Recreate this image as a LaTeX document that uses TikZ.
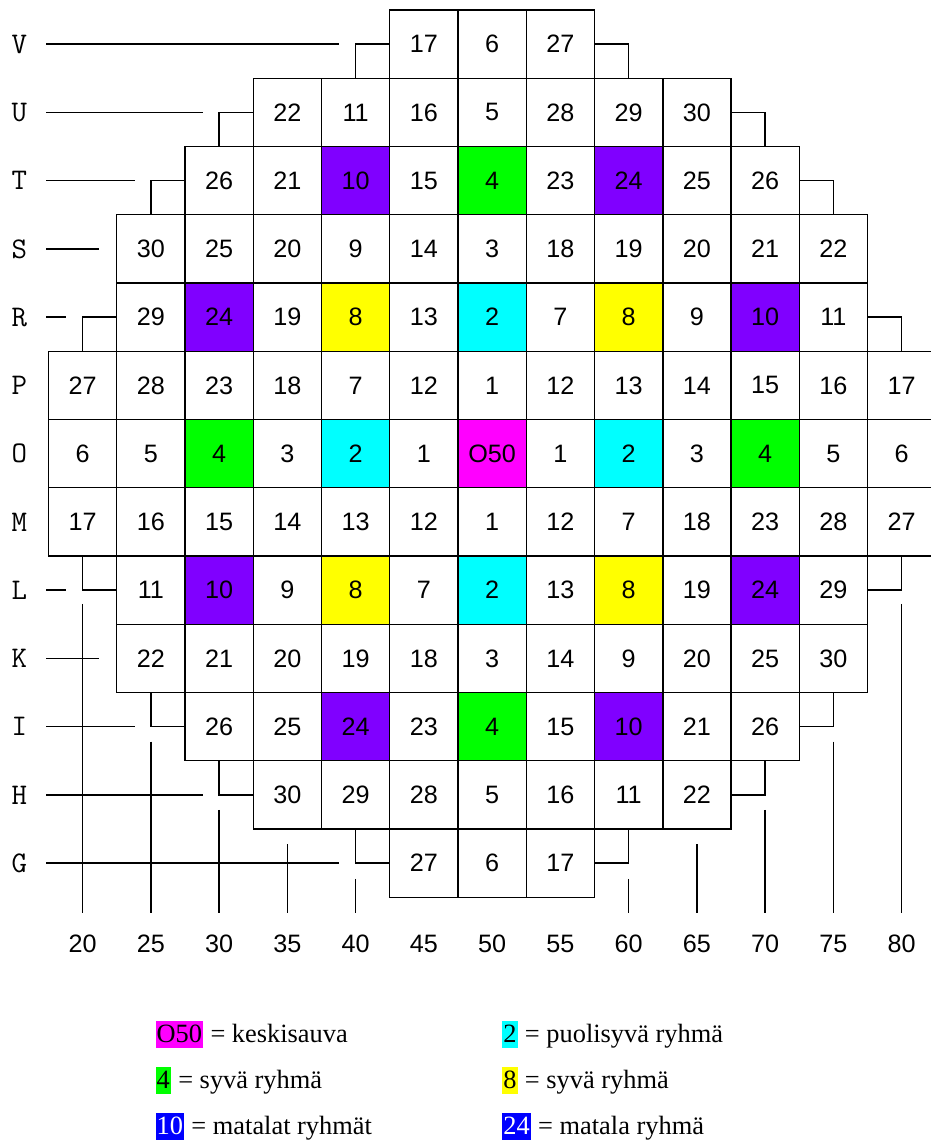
\documentclass[tikz,border=0pt]{standalone}
\usepackage{fontspec}
\setmainfont{Liberation Serif}
\newfontfamily\cellfont{Liberation Sans}
\usetikzlibrary{positioning}
\definecolor{rodpurple}{RGB}{128,0,255}
\definecolor{rodgreen}{RGB}{0,255,0}
\definecolor{rodcyan}{RGB}{0,255,255}
\definecolor{rodyellow}{RGB}{255,255,0}
\definecolor{rodmagenta}{RGB}{255,0,255}
\definecolor{keyblue}{RGB}{0,0,255}
\tikzset{
  every picture/.style={line width=0.6pt},
  cellnum/.style={font=\cellfont\fontsize{10.5}{12}\selectfont, inner sep=0pt},
  rowlabel/.style={font=\ttfamily\fontsize{12.5}{15}\selectfont, anchor=west, inner sep=0pt},
  collabel/.style={font=\cellfont\fontsize{10.5}{12}\selectfont, inner sep=0pt},
  keybox/.style={font=\fontsize{11}{13}\selectfont, anchor=base west, inner xsep=0.4pt, inner ysep=0pt, text height=0.9em, text depth=0.23em},
  keytext/.style={font=\fontsize{11}{13}\selectfont, anchor=base west, inner xsep=0.25em, inner ysep=0pt},
  guide/.style={draw}
}
\begin{document}
\begin{tikzpicture}[x=1cm,y={(0cm,-1cm)}]
  \useasboundingbox (-0.711,-0.1465) rectangle (12.916,16.557);

  % coloured rods
  \foreach \c/\r/\fillc in {4/2/rodpurple, 6/2/rodgreen, 8/2/rodpurple,
      2/4/rodpurple, 4/4/rodyellow, 6/4/rodcyan, 8/4/rodyellow, 10/4/rodpurple,
      2/6/rodgreen, 4/6/rodcyan, 6/6/rodmagenta, 8/6/rodcyan, 10/6/rodgreen,
      2/8/rodpurple, 4/8/rodyellow, 6/8/rodcyan, 8/8/rodyellow, 10/8/rodpurple,
      4/10/rodpurple, 6/10/rodgreen, 8/10/rodpurple}
    \fill[\fillc] (\c,\r) rectangle ++(1,1);

  % core cells
  \foreach \r/\first/\nums in {
      0/5/{17,6,27},
      1/3/{22,11,16,5,28,29,30},
      2/2/{26,21,10,15,4,23,24,25,26},
      3/1/{30,25,20,9,14,3,18,19,20,21,22},
      4/1/{29,24,19,8,13,2,7,8,9,10,11},
      5/0/{27,28,23,18,7,12,1,12,13,14,15,16,17},
      6/0/{6,5,4,3,2,1,O50,1,2,3,4,5,6},
      7/0/{17,16,15,14,13,12,1,12,7,18,23,28,27},
      8/1/{11,10,9,8,7,2,13,8,19,24,29},
      9/1/{22,21,20,19,18,3,14,9,20,25,30},
      10/2/{26,25,24,23,4,15,10,21,26},
      11/3/{30,29,28,5,16,11,22},
      12/5/{27,6,17}}
    \foreach \v [count=\i from 0] in \nums {
      \pgfmathtruncatemacro\cc{\first+\i}
      \draw (\cc,\r) rectangle ++(1,1);
      \node[cellnum] (cell-\r-\cc) at (\cc+0.5,\r+0.5) {\v};
    }

  % row letters and their lines
  \foreach \l [count=\r from 0] in {V,U,T,S,R,P,O,M,L,K,I,H,G}
    \node[rowlabel] (row-\l) at (-0.55,\r+0.5) {\l};
  \foreach \r/\e in {0/4.26, 1/2.26, 2/1.26, 3/0.74, 4/0.26,
      8/0.26, 9/0.74, 10/1.26, 11/2.26, 12/4.26}
    \draw[guide] (-0.03,\r+0.5) -- (\e,\r+0.5);

  % steps at the edge of the core
  \foreach \r/\c/\d in {0/4/1, 1/2/1, 2/1/1, 4/0/1, 8/0/-1, 10/1/-1, 11/2/-1, 12/4/-1}{
    \draw (\c+0.5,\r+0.5+\d*0.5) -- (\c+0.5,\r+0.5) -- (\c+1,\r+0.5);
    \draw (12.5-\c,\r+0.5+\d*0.5) -- (12.5-\c,\r+0.5) -- (12-\c,\r+0.5);
  }

  % column lines and numbers
  \foreach \c/\s in {0/8.7, 1/10.72, 2/11.72, 3/12.22, 4/12.73,
      8/12.73, 9/12.22, 10/11.72, 11/10.72, 12/8.7}
    \draw[guide] (\c+0.5,\s) -- (\c+0.5,13.23);
  \foreach \n [count=\c from 0] in {20,25,30,35,40,45,50,55,60,65,70,75,80}
    \node[collabel] (col-\n) at (\c+0.5,13.68) {\n};

  % legend
  \node[keybox, fill=rodmagenta] (key-centre) at (1.56,15.135) {O50};
  \node[keytext] (txt-centre) at (key-centre.base east) {= keskisauva};
  \node[keybox, fill=rodgreen] (key-deep) at (1.56,15.809) {4};
  \node[keytext] (txt-deep) at (key-deep.base east) {= syvä ryhmä};
  \node[keybox, fill=keyblue, text=white] (key-shallow) at (1.56,16.483) {10};
  \node[keytext] (txt-shallow) at (key-shallow.base east) {= matalat ryhmät};
  \node[keybox, fill=rodcyan] (key-half) at (6.64,15.135) {2};
  \node[keytext] (txt-half) at (key-half.base east) {= puolisyvä ryhmä};
  \node[keybox, fill=rodyellow] (key-deep2) at (6.64,15.809) {8};
  \node[keytext] (txt-deep2) at (key-deep2.base east) {= syvä ryhmä};
  \node[keybox, fill=keyblue, text=white] (key-shallow2) at (6.64,16.483) {24};
  \node[keytext] (txt-shallow2) at (key-shallow2.base east) {= matala ryhmä};
\end{tikzpicture}
\end{document}
